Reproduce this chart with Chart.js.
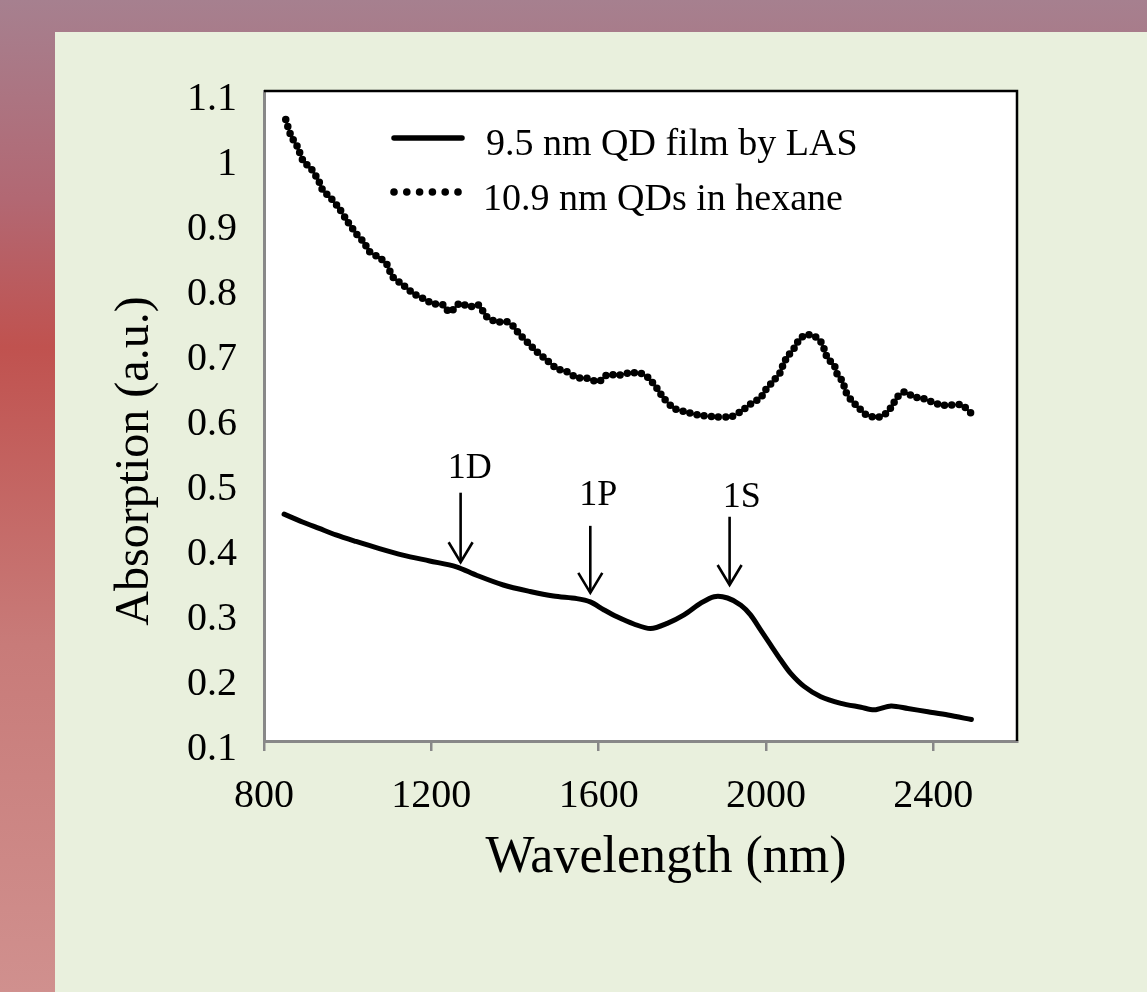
<!DOCTYPE html>
<html>
<head>
<meta charset="utf-8">
<script src="https://cdn.jsdelivr.net/npm/chart.js@4/dist/chart.umd.min.js"></script>
<style>
html,body{margin:0;padding:0;width:1147px;height:992px;overflow:hidden;}
body{background:linear-gradient(to bottom,#a6808f 0%,#b26873 20%,#c0524f 35%,#c87b79 65%,#d0908e 100%);}
#panel{position:absolute;left:55px;top:32px;width:1092px;height:960px;background:#e9f0dd;}
canvas{display:block;}
</style>
</head>
<body>
<div id="panel"><canvas id="c" width="1092" height="960"></canvas></div>
<script>
// ---- data ----
const seriesNames = ['9.5 nm QD film by LAS', '10.9 nm QDs in hexane'];

const wavelengthFilm = [848,892,932,972,1020,1076,1132,1196,1260,1308,1372,1436,1492,1548,1580,1612,1644,1684,1724,1764,1804,1844,1876,1908,1940,1963,1987,2011,2035,2059,2091,2131,2179,2227,2259,2299,2339,2387,2435,2491];
const absFilm = [0.449,0.437,0.427,0.417,0.407,0.396,0.386,0.377,0.368,0.355,0.340,0.330,0.323,0.319,0.314,0.302,0.291,0.280,0.273,0.281,0.294,0.312,0.322,0.320,0.309,0.294,0.271,0.248,0.225,0.204,0.184,0.168,0.158,0.152,0.148,0.154,0.150,0.145,0.140,0.133];

const wavelengthHexane = [852,864,880,894,912,932,940,960,980,1000,1020,1040,1052,1072,1092,1108,1132,1156,1180,1204,1228,1244,1268,1292,1312,1332,1356,1380,1396,1408,1432,1452,1476,1500,1524,1548,1572,1600,1620,1648,1672,1700,1720,1740,1756,1780,1804,1836,1876,1916,1940,1964,1987,1999,2019,2035,2041,2051,2067,2079,2095,2115,2131,2139,2147,2163,2171,2183,2191,2203,2223,2239,2263,2283,2303,2311,2331,2351,2375,2395,2419,2443,2467,2491];
const absHexane = [1.056,1.032,1.014,0.992,0.981,0.960,0.948,0.935,0.919,0.899,0.881,0.866,0.853,0.845,0.835,0.814,0.802,0.789,0.781,0.773,0.771,0.760,0.773,0.768,0.771,0.753,0.745,0.745,0.738,0.728,0.712,0.699,0.686,0.673,0.668,0.659,0.658,0.653,0.663,0.663,0.666,0.666,0.658,0.642,0.627,0.612,0.607,0.602,0.599,0.599,0.607,0.619,0.628,0.640,0.655,0.668,0.679,0.691,0.704,0.717,0.725,0.723,0.714,0.703,0.689,0.678,0.663,0.653,0.637,0.625,0.612,0.602,0.598,0.602,0.617,0.627,0.637,0.630,0.627,0.622,0.617,0.617,0.617,0.604];

const peakLabels = ['1D','1P','1S'];
const peakX = [1270,1580,1913];
const peakTip = [0.375,0.328,0.340];
const peakTail = [0.482,0.431,0.445];
const peakLabelX = [1292,1599,1942];
const peakLabelY = [0.505,0.463,0.460];

const xTitle = 'Wavelength (nm)';
const yTitle = 'Absorption (a.u.)';
const xTickValues = [800,1200,1600,2000,2400];
const yTickValues = [0.1,0.2,0.3,0.4,0.5,0.6,0.7,0.8,0.9,1,1.1];
const xMin = 800, xMax = 2600;
const yMin = 0.1, yMax = 1.1;

// ---- chart ----
const FONT = "'Liberation Serif','Times New Roman',serif";
Chart.defaults.font.family = FONT;
Chart.defaults.color = '#000';

const toXY = (xs, ys) => xs.map((x, i) => ({x: x, y: ys[i]}));

const areaBg = {
  id: 'areaBg',
  beforeDraw(chart) {
    const {ctx, chartArea: a} = chart;
    ctx.save();
    ctx.fillStyle = '#ffffff';
    ctx.fillRect(a.left, a.top, a.right - a.left, a.bottom - a.top);
    ctx.restore();
  }
};

const frame = {
  id: 'frame',
  afterDraw(chart) {
    const {ctx, chartArea: a} = chart;
    ctx.save();
    ctx.strokeStyle = '#000';
    ctx.lineWidth = 2.5;
    ctx.beginPath();
    ctx.moveTo(a.left, a.top);
    ctx.lineTo(a.right, a.top);
    ctx.lineTo(a.right, a.bottom);
    ctx.stroke();
    ctx.restore();
  }
};

const axisTitles = {
  id: 'axisTitles',
  afterDraw(chart) {
    const {ctx, chartArea: a} = chart;
    ctx.save();
    ctx.fillStyle = '#000';
    ctx.textAlign = 'center';
    ctx.textBaseline = 'middle';
    ctx.font = '52px ' + FONT;
    ctx.fillText(xTitle, a.left + 402, a.bottom + 117);
    ctx.translate(a.left - 129, a.top + 370);
    ctx.rotate(-Math.PI / 2);
    ctx.font = '48px ' + FONT;
    ctx.fillText(yTitle, 0, 0);
    ctx.restore();
  }
};

const peaks = {
  id: 'peaks',
  afterDatasetsDraw(chart) {
    const {ctx, scales: {x, y}} = chart;
    ctx.save();
    ctx.strokeStyle = '#000';
    ctx.fillStyle = '#000';
    ctx.lineWidth = 2.6;
    ctx.lineCap = 'butt';
    ctx.font = '36px ' + FONT;
    ctx.textAlign = 'center';
    ctx.textBaseline = 'alphabetic';
    peakLabels.forEach((lab, i) => {
      const px = x.getPixelForValue(peakX[i]);
      const tip = y.getPixelForValue(peakTip[i]);
      const tail = y.getPixelForValue(peakTail[i]);
      ctx.beginPath();
      ctx.moveTo(px, tail);
      ctx.lineTo(px, tip);
      ctx.stroke();
      ctx.beginPath();
      ctx.moveTo(px - 12, tip - 20);
      ctx.lineTo(px, tip);
      ctx.lineTo(px + 12, tip - 20);
      ctx.stroke();
      ctx.fillText(lab, x.getPixelForValue(peakLabelX[i]), y.getPixelForValue(peakLabelY[i]));
    });
    ctx.restore();
  }
};

const legendBox = {
  id: 'legendBox',
  afterDraw(chart) {
    const {ctx, chartArea: a} = chart;
    ctx.save();
    ctx.fillStyle = '#000';
    ctx.strokeStyle = '#000';
    ctx.font = '38px ' + FONT;
    ctx.textAlign = 'left';
    ctx.textBaseline = 'alphabetic';
    ctx.lineWidth = 5.5;
    ctx.lineCap = 'round';
    ctx.beginPath();
    ctx.moveTo(a.left + 130, a.top + 47);
    ctx.lineTo(a.left + 198, a.top + 47);
    ctx.stroke();
    ctx.fillText(seriesNames[0], a.left + 222, a.top + 64);
    for (let k = 0; k < 6; k++) {
      ctx.beginPath();
      ctx.arc(a.left + 130 + k * 12.8, a.top + 101, 3.8, 0, Math.PI * 2);
      ctx.fill();
    }
    ctx.fillText(seriesNames[1], a.left + 219, a.top + 119);
    ctx.restore();
  }
};

new Chart(document.getElementById('c'), {
  type: 'line',
  data: {
    datasets: [
      {
        label: seriesNames[0],
        data: toXY(wavelengthFilm, absFilm),
        borderColor: '#000',
        borderWidth: 5,
        pointRadius: 0,
        tension: 0.3,
        fill: false,
        borderCapStyle: 'round',
        borderJoinStyle: 'round'
      },
      {
        label: seriesNames[1],
        data: toXY(wavelengthHexane, absHexane),
        borderColor: '#000',
        borderWidth: 7.5,
        borderDash: [0, 7.2],
        borderCapStyle: 'round',
        pointRadius: 0,
        tension: 0.3,
        fill: false
      }
    ]
  },
  options: {
    responsive: false,
    animation: false,
    layout: {padding: {left: 45, right: 130, top: 59, bottom: 0}},
    plugins: {legend: {display: false}, tooltip: {enabled: false}},
    scales: {
      x: {
        type: 'linear',
        min: xMin, max: xMax,
        afterBuildTicks(scale) { scale.ticks = xTickValues.map(v => ({value: v})); },
        afterFit(scale) { scale.height = 251; },
        ticks: {font: {size: 40}, padding: 21, color: '#000', maxRotation: 0, autoSkip: false,
          callback: v => String(v)},
        grid: {drawOnChartArea: false, drawTicks: true, tickLength: 10, color: '#888888', lineWidth: 2.5},
        border: {display: true, color: '#888888', width: 3},
        title: {display: false}
      },
      y: {
        type: 'linear',
        min: yMin, max: yMax,
        afterBuildTicks(scale) { scale.ticks = yTickValues.map(v => ({value: v})); },
        afterFit(scale) { scale.width = 164; },
        ticks: {font: {size: 40}, padding: 27, color: '#000', labelOffset: 8, autoSkip: false,
          callback: v => (Math.round(v * 10) / 10).toString()},
        grid: {display: false, drawTicks: false},
        border: {display: true, color: '#888888', width: 3},
        title: {display: false}
      }
    }
  },
  plugins: [areaBg, frame, peaks, legendBox, axisTitles]
});
</script>
</body>
</html>
